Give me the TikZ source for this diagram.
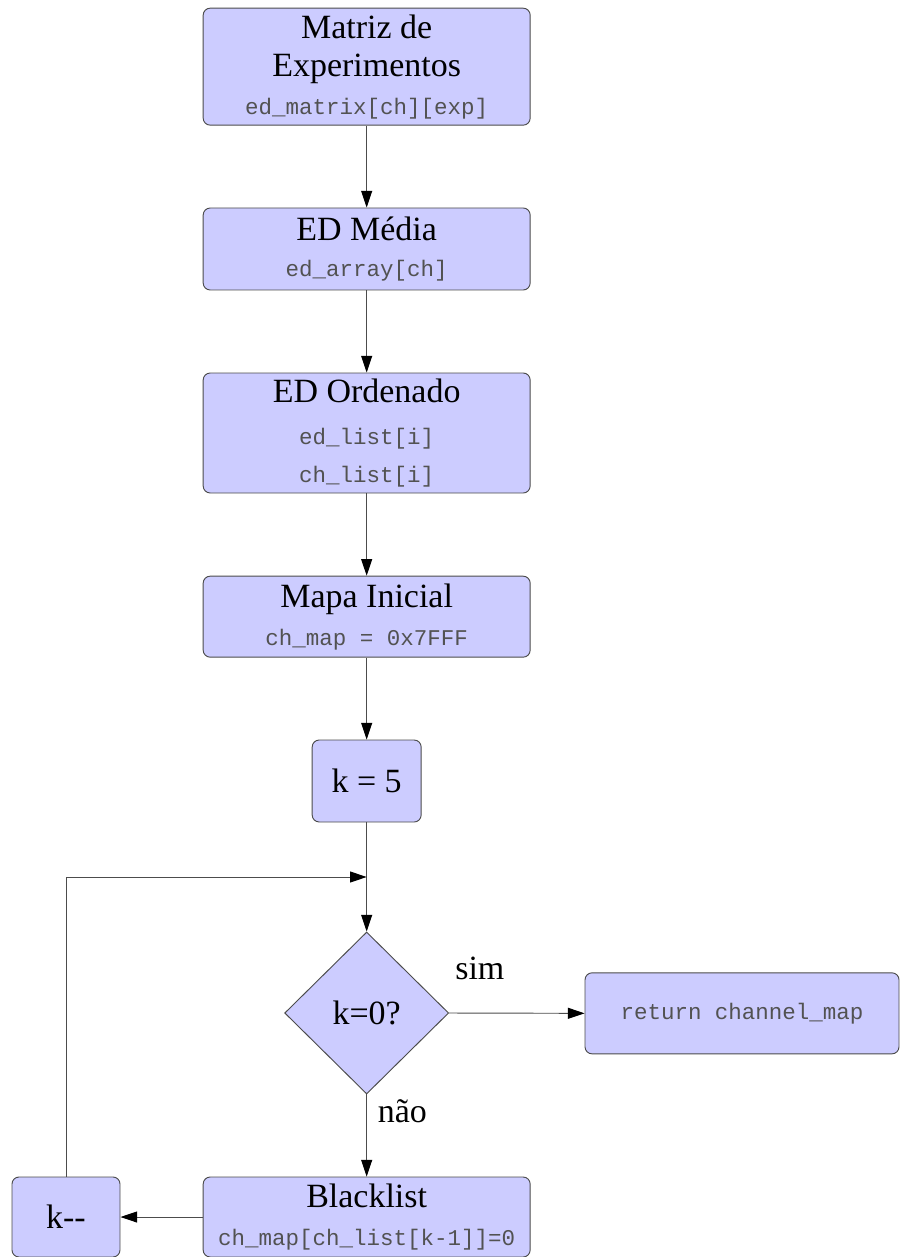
\documentclass[tikz,border=0pt]{standalone}
\usepackage{fontspec}
\setmainfont{Liberation Serif}
\setmonofont{Liberation Mono}
\usetikzlibrary{arrows.meta,shapes.geometric,positioning,calc}

\newcommand{\snippet}[1]{{\fontsize{19.2}{24}\selectfont\ttfamily\color{black!68}#1}}

\begin{document}
\begin{tikzpicture}[
  every node/.style={font=\fontsize{29}{32.5}\selectfont},
  box/.style={
    draw=black!70,
    fill=blue!20,
    line width=0.8pt,
    rounded corners=6pt,
    align=center,
    inner sep=4pt,
    minimum width=98.1mm
  },
  smallbox/.style={box, minimum width=32.7mm, minimum height=24.6mm},
  decision/.style={
    draw=black!70,
    fill=blue!20,
    line width=0.8pt,
    diamond,
    inner sep=0pt,
    minimum width=49.2mm,
    minimum height=48.6mm
  },
  arrow/.style={
    -{Triangle[length=5mm,width=3.3mm,color=black]},
    draw=black!70,
    line width=0.8pt
  },
  edgeLabel/.style={font=\fontsize{29}{32}\selectfont, inner sep=2pt}
]

\useasboundingbox (0,0) rectangle (27,-37.71);

% main column
\node[box, minimum height=35.1mm] (matriz) at (11.0,-2.0)
  {Matriz de\\Experimentos\\[0pt]\snippet{ed\_matrix[ch][exp]}};
\node[box, minimum height=24.6mm] (media) at (11.0,-7.47)
  {ED Média\\[-2pt]\snippet{ed\_array[ch]}};
\node[box, minimum height=36mm] (ordenado) at (11.0,-12.99)
  {ED Ordenado\\[3pt]\snippet{ed\_list[i]}\\[0pt]\snippet{ch\_list[i]}};
\node[box, minimum height=24.3mm] (mapa) at (11.0,-18.5)
  {Mapa Inicial\\[0pt]\snippet{ch\_map = 0x7FFF}};
\node[smallbox] (kinit) at (11.0,-23.43) {k = 5};

\coordinate (loop) at (11.0,-26.31);

\node[decision] (test) at (11.0,-30.39) {k=0?};
\node[box, minimum width=94.2mm, minimum height=24.3mm] (ret) at (22.26,-30.4)
  {\snippet{return channel\_map}};

% bottom row
\node[box, minimum height=24mm] (black) at (11.0,-36.51)
  {Blacklist\\[0pt]\snippet{ch\_map[ch\_list[k-1]]=0}};
\node[smallbox, minimum width=32.4mm, minimum height=24mm] (kdec) at (1.98,-36.51) {k-{}-};

% arrows
\draw[arrow] (matriz) -- (media);
\draw[arrow] (media) -- (ordenado);
\draw[arrow] (ordenado) -- (mapa);
\draw[arrow] (mapa) -- (kinit);
\draw[draw=black!70, line width=0.8pt] (kinit) -- (loop);
\draw[arrow] (loop) -- (test);
\draw[arrow] (test.east) -- node[edgeLabel, pos=0, anchor=west, xshift=0.1cm, yshift=1.35cm]{sim} (ret.west);
\draw[arrow] (test.south) -- node[edgeLabel, pos=0.2, right, xshift=0.25cm]{não} (black.north);
\draw[arrow] (black) -- (kdec);
\draw[arrow] (kdec.north) |- (loop);

\end{tikzpicture}
\end{document}
